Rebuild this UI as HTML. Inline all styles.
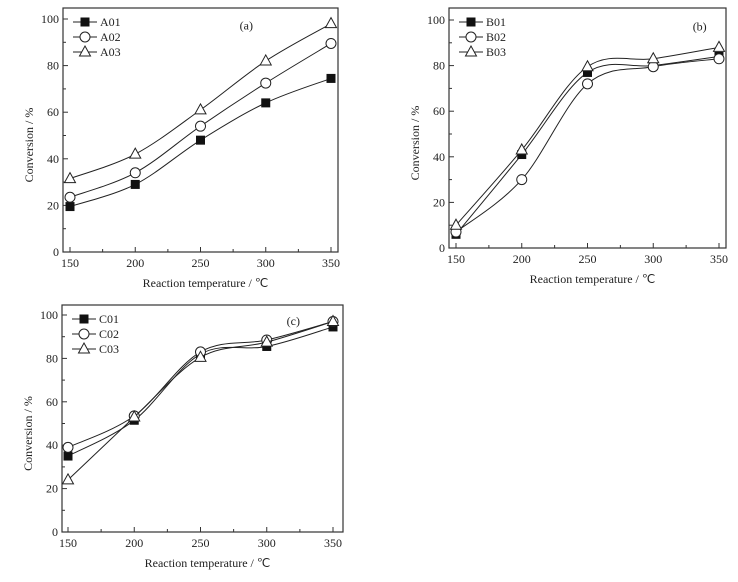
<!DOCTYPE html>
<html><head><meta charset="utf-8"><style>
body{margin:0;background:#fff;width:738px;height:577px;overflow:hidden}
svg text{font-family:"Liberation Serif",serif;fill:#222}
</style></head><body>
<svg id="s" width="738" height="577"></svg>
<script>
const xTicks=[150,200,250,300,350];
const yTicks=[0,20,40,60,80,100];
const temps=[150,200,250,300,350];
const A01=[19.5,29,48,64,74.5];
const A02=[23.5,34,54,72.5,89.5];
const A03=[31.5,42,61,82,98];
const B01=[6,41,77,80,84];
const B02=[7,30,72,79.5,83];
const B03=[10,43,79.5,83,88];
const C01=[35,51.5,82,85.5,94.5];
const C02=[39,53.5,83,88.5,97];
const C03=[24,53,80.5,87.5,97];
const labelsA=["A01","A02","A03"],labelsB=["B01","B02","B03"],labelsC=["C01","C02","C03"];
const NS="http://www.w3.org/2000/svg";
const svg=document.getElementById('s');
function mk(t,a,p){const e=document.createElementNS(NS,t);for(const k in a)e.setAttribute(k,a[k]);(p||svg).appendChild(e);return e;}
function panel(cfg){
 const g=mk('g',{});
 
 
 const X=v=>cfg.x0+(v-150)/200*(cfg.x1-cfg.x0);
 const Y=v=>cfg.y0+(v)/100*(cfg.y1-cfg.y0);
 const fr=mk('rect',{x:cfg.L,y:cfg.T,width:cfg.R-cfg.L,height:cfg.y0-cfg.T,fill:'none',stroke:'#333','stroke-width':1.2},g);
 
 xTicks.forEach(t=>{
  mk('line',{x1:X(t),x2:X(t),y1:cfg.y0,y2:cfg.y0-5,stroke:'#333'},g);
  if(t<350){mk('line',{x1:X(t+25),x2:X(t+25),y1:cfg.y0,y2:cfg.y0-3,stroke:'#333'},g);}
  const tx=mk('text',{x:X(t),y:cfg.y0+15,'text-anchor':'middle','font-size':12},g);tx.textContent=t;
  
 });
 yTicks.forEach(t=>{
  mk('line',{x1:cfg.L,x2:cfg.L+5,y1:Y(t),y2:Y(t),stroke:'#333'},g);
  if(t<100)mk('line',{x1:cfg.L,x2:cfg.L+3,y1:Y(t+10),y2:Y(t+10),stroke:'#333'},g);
  const tx=mk('text',{x:cfg.L-4,y:Y(t)+4,'text-anchor':'end','font-size':12},g);tx.textContent=t;
  
 });
 const xt=mk('text',{x:(cfg.L+cfg.R)/2+5,y:cfg.y0+35,'text-anchor':'middle','font-size':12},g);xt.textContent='Reaction temperature / ℃';
 
 const yc=(cfg.T+cfg.y0)/2+15;
 const yt=mk('text',{x:cfg.L-30,y:yc,'text-anchor':'middle','font-size':12,transform:`rotate(-90 ${cfg.L-30} ${yc})`},g);yt.textContent='Conversion / %';
 
 const pl=mk('text',{x:X(cfg.tagx),y:Y(95.5),'font-size':12},g);pl.textContent='('+cfg.tag+')';
 
 cfg.series.forEach((vals,i)=>{
  const pts=temps.map((t,j)=>[X(t),Y(vals[j])]);
  let d='M'+pts[0][0]+','+pts[0][1];
  for(let j=0;j<pts.length-1;j++){
   if(cfg.straight&&cfg.straight[i]===j){d+=' L'+pts[j+1][0]+','+pts[j+1][1];continue;}
   const p0=pts[Math.max(j-1,0)],p1=pts[j],p2=pts[j+1],p3=pts[Math.min(j+2,pts.length-1)];
   const c1=[p1[0]+(p2[0]-p0[0])/6,p1[1]+(p2[1]-p0[1])/6],c2=[p2[0]-(p3[0]-p1[0])/6,p2[1]-(p3[1]-p1[1])/6];
   d+=` C${c1[0]},${c1[1]} ${c2[0]},${c2[1]} ${p2[0]},${p2[1]}`;
  }
  const ln=mk('path',{d:d,fill:'none',stroke:'#222','stroke-width':1},g);
  
  pts.forEach(p=>{const m=marker(g,i,p[0],p[1]);});
  const ly=cfg.T+14+i*15;
  mk('line',{x1:cfg.L+10,x2:cfg.L+34,y1:ly,y2:ly,stroke:'#222'},g);
  const lm=marker(g,i,cfg.L+22,ly);
  const lt=mk('text',{x:cfg.L+37,y:ly+4,'font-size':12},g);lt.textContent=cfg.labels[i];
  
 });
}
function marker(g,i,x,y){
 if(i===0)return mk('rect',{x:x-4.5,y:y-4.5,width:9,height:9,fill:'#111'},g);
 if(i===1)return mk('circle',{cx:x,cy:y,r:5,fill:'#fff',stroke:'#222'},g);
 return mk('path',{d:`M${x},${y-6} L${x+5.5},${y+4} L${x-5.5},${y+4}Z`,fill:'#fff',stroke:'#222'},g);
}
panel({tag:'a',L:63,R:338,T:8,x0:70,x1:331,y0:252,y1:19,series:[A01,A02,A03],labels:labelsA,tagx:280});
panel({tag:'b',L:449,R:726,T:8,x0:456,x1:719,y0:248,y1:20,series:[B01,B02,B03],labels:labelsB,tagx:330});
panel({tag:'c',L:62,R:343,T:305,x0:68,x1:333,y0:532,y1:315,series:[C01,C02,C03],labels:labelsC,tagx:315,straight:[null,null,0]});
</script>
</body></html>
